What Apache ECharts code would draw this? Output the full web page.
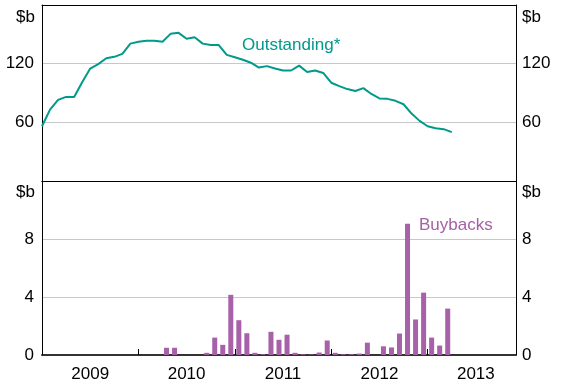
<!DOCTYPE html>
<html>
<head>
<meta charset="utf-8">
<script src="https://cdn.jsdelivr.net/npm/echarts@6/dist/echarts.min.js"></script>
<style>
  html, body { margin: 0; padding: 0; background: #fff; }
  #chart { width: 562px; height: 385px; }
</style>
</head>
<body>
<div id="chart"></div>
<script>
// Month index 0 = January 2009; the axis runs to December 2013 (index 59).
const yearLabels = ['2009', '2010', '2011', '2012', '2013'];

// Outstanding stock, $b, month-end values from January 2009
const outstanding = [
  56, 73, 83, 86, 86, 101, 115, 119.5, 125.5, 127, 130, 140.5,
  142.5, 143.5, 143.5, 142.5, 150.5, 151.5, 145.5, 147, 140.5, 139, 139, 129,
  126.5, 124, 121, 116, 117.5, 115, 113, 113, 118, 111.5, 113, 110.5,
  100.5, 97, 94, 92, 95, 89, 84.5, 84, 82, 78.5, 69, 61.5,
  56, 54, 53, 50
];

// Monthly buybacks, $b (month index, value)
const buybackMonths = [15, 16, 20, 21, 22, 23, 24, 25, 26, 27, 28, 29, 30, 31, 32, 33, 34, 35,
  36, 37, 38, 39, 40, 42, 43, 44, 45, 46, 47, 48, 49, 50];
const buybackValues = [0.5, 0.5, 0.15, 1.2, 0.7, 4.15, 2.4, 1.5, 0.15, 0.05, 1.6, 1.05, 1.4, 0.15, 0.05, 0.03, 0.17, 1.0,
  0.15, 0.05, 0.05, 0.1, 0.85, 0.6, 0.52, 1.48, 9.05, 2.45, 4.3, 1.2, 0.65, 3.2];

const topTicks = [0, 60, 120, 180];
const bottomTicks = [0, 4, 8, 12];

const FONT = '"Liberation Sans", Arial, sans-serif';
const TEAL = '#00998a';
const PURPLE = '#a661a8';
const FRAME = { show: true, onZero: false, lineStyle: { color: '#000', width: 1 } };

const chart = echarts.init(document.getElementById('chart'), null, { renderer: 'canvas' });

const g0 = { left: 42, right: 46, top: 5, height: 176 };
const g1 = { left: 42, right: 46, top: 181, height: 174 };

function yAxisFor(gridIndex, ticks, position) {
  const top = ticks[ticks.length - 1];
  return {
    type: 'value', gridIndex, position,
    min: ticks[0], max: top, interval: ticks[1] - ticks[0],
    axisLine: FRAME, axisTick: { show: false },
    splitLine: { show: position === 'left', lineStyle: { color: '#c8c8c8', width: 1 } },
    axisLabel: {
      margin: position === 'left' ? 8 : 6,
      color: '#000', fontSize: 17, fontFamily: FONT,
      formatter: v => (v === top || (gridIndex === 0 && v === 0)) ? '' : String(v)
    }
  };
}

// Bare axis used only to draw a frame edge
function frameX(gridIndex, position) {
  return {
    type: 'value', gridIndex, position, min: 0, max: 59,
    axisLine: FRAME, axisTick: { show: false }, axisLabel: { show: false }, splitLine: { show: false }
  };
}

const option = {
  animation: false,
  backgroundColor: '#fff',
  grid: [g0, g1],
  xAxis: [
    frameX(0, 'bottom'),
    {
      type: 'value', gridIndex: 1, min: 0, max: 59, interval: 6, position: 'bottom',
      axisLine: { show: true, onZero: false, lineStyle: { color: '#333', width: 2 } },
      axisTick: { show: false }, splitLine: { show: false },
      axisLabel: {
        margin: 11, color: '#000', fontSize: 17, fontFamily: FONT,
        formatter: v => (v % 12 === 6) ? yearLabels[(v - 6) / 12] : ''
      }
    },
    {
      type: 'value', gridIndex: 1, min: 0, max: 59, interval: 12, position: 'bottom',
      axisLine: { show: false },
      axisTick: { show: true, inside: true, length: 6, lineStyle: { color: '#000', width: 1 } },
      axisLabel: { show: false }, splitLine: { show: false }
    },
    frameX(0, 'top'),
    frameX(1, 'top')
  ],
  yAxis: [
    yAxisFor(0, topTicks, 'left'),
    yAxisFor(0, topTicks, 'right'),
    yAxisFor(1, bottomTicks, 'left'),
    yAxisFor(1, bottomTicks, 'right')
  ],
  series: [
    {
      name: 'Outstanding*', type: 'line', xAxisIndex: 0, yAxisIndex: 0,
      data: outstanding.map((v, i) => [i, v]),
      showSymbol: false, lineStyle: { color: TEAL, width: 2 }, itemStyle: { color: TEAL }
    },
    {
      name: 'Buybacks', type: 'bar', xAxisIndex: 1, yAxisIndex: 2,
      data: buybackMonths.map((m, k) => [m + 0.5, buybackValues[k]]),
      barWidth: 5, itemStyle: { color: PURPLE }
    }
  ],
  graphic: [
    { type: 'text', left: 242, top: 37, style: { text: 'Outstanding*', fill: TEAL, font: '17px ' + FONT } },
    { type: 'text', left: 419, top: 217, style: { text: 'Buybacks', fill: PURPLE, font: '17px ' + FONT } },
    { type: 'text', right: 562 - 35, top: 9, style: { text: '$b', fill: '#000', font: '17px ' + FONT } },
    { type: 'text', left: 522, top: 9, style: { text: '$b', fill: '#000', font: '17px ' + FONT } },
    { type: 'text', right: 562 - 35, top: 184, style: { text: '$b', fill: '#000', font: '17px ' + FONT } },
    { type: 'text', left: 522, top: 184, style: { text: '$b', fill: '#000', font: '17px ' + FONT } }
  ]
};

chart.setOption(option);
</script>
</body>
</html>
